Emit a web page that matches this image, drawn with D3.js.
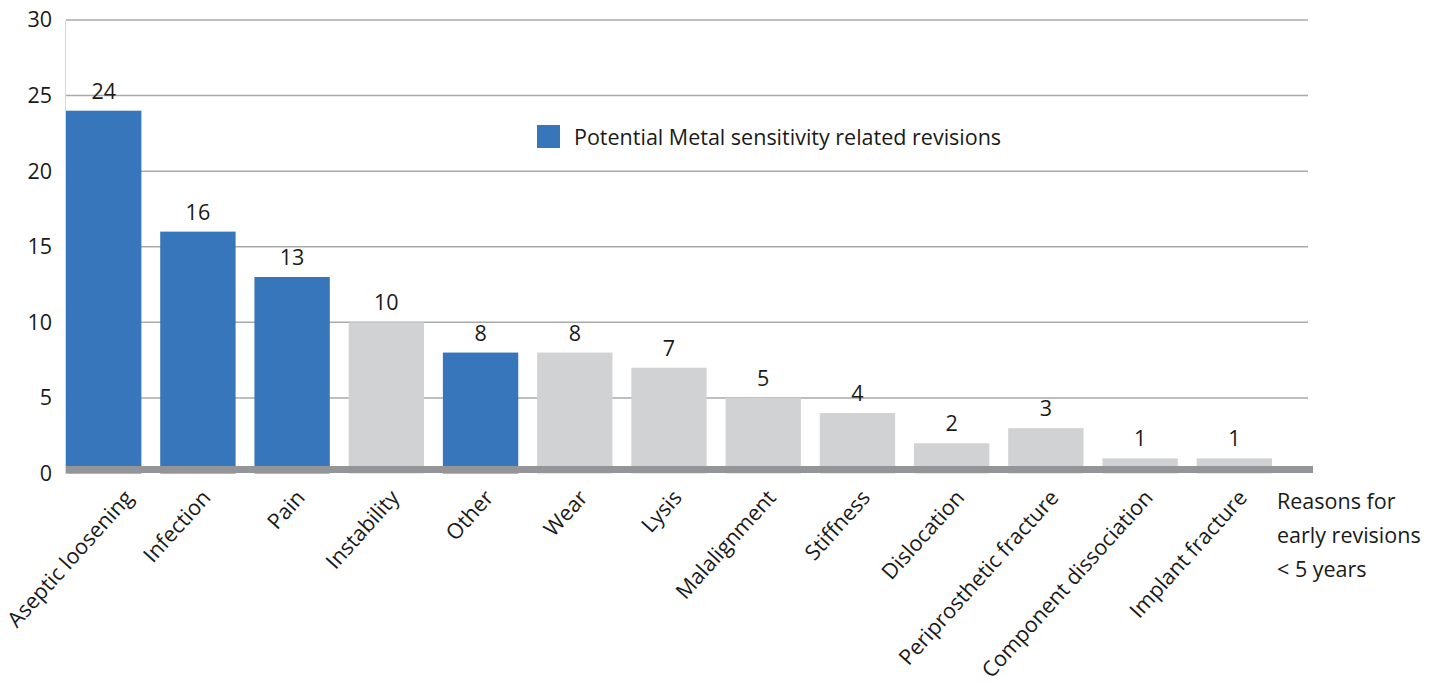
<!DOCTYPE html>
<html>
<head>
<meta charset="utf-8">
<script src="https://cdn.jsdelivr.net/npm/d3@7/dist/d3.min.js"></script>
<style>
  html, body { margin: 0; padding: 0; background: #fff; }
  svg { display: block; }
  text { font-family: "Open Sans", "Noto Sans", sans-serif; fill: #1a1a1a; }
</style>
</head>
<body>
<svg id="chart" width="1442" height="683"></svg>
<script>
// Reasons for early revisions (< 5 years)
const categories = [
  "Aseptic loosening", "Infection", "Pain", "Instability", "Other", "Wear",
  "Lysis", "Malalignment", "Stiffness", "Dislocation", "Periprosthetic fracture",
  "Component dissociation", "Implant fracture"
];
const counts = [24, 16, 13, 10, 8, 8, 7, 5, 4, 2, 3, 1, 1];
// true = potential metal sensitivity related revision
const metalRelated = [true, true, true, false, true, false, false, false, false, false, false, false, false];
const yTicks = [0, 5, 10, 15, 20, 25, 30];
const legendLabel = "Potential Metal sensitivity related revisions";
const axisTitleLines = ["Reasons for", "early revisions", "< 5 years"];

const BLUE = "#3776bb";
const GREY = "#d1d2d4";

const svg = d3.select("#chart");

const x = d3.scaleBand()
  .domain(categories)
  .range([66, 1272])
  .paddingInner(0.2)
  .paddingOuter(0);

const y = d3.scaleLinear().domain([0, 30]).range([473.5, 20]);

const plotRight = 1308;

// horizontal gridlines
svg.append("g")
  .selectAll("line")
  .data(yTicks.filter(d => d > 0))
  .join("line")
  .attr("x1", 66).attr("x2", plotRight)
  .attr("y1", d => y(d)).attr("y2", d => y(d))
  .attr("stroke", "#a7a9ac")
  .attr("stroke-width", 1.5);

// faint vertical axis line
svg.append("line")
  .attr("x1", 65.5).attr("x2", 65.5)
  .attr("y1", y(30)).attr("y2", y(0))
  .attr("stroke", "#d6d7d9").attr("stroke-width", 1);

// y axis labels
const yAxis = d3.axisLeft(y).tickValues(yTicks).tickSize(0).tickPadding(14);
const gy = svg.append("g").attr("transform", "translate(66,0)").call(yAxis);
gy.select(".domain").remove();
gy.selectAll("text")
  .attr("font-size", 21.5)
  .attr("font-family", "\"Open Sans\", sans-serif")
  .attr("fill", "#1a1a1a");

// bars
svg.append("g")
  .selectAll("rect")
  .data(categories)
  .join("rect")
  .attr("x", d => x(d))
  .attr("width", x.bandwidth())
  .attr("y", (d, i) => y(counts[i]))
  .attr("height", (d, i) => y(0) - y(counts[i]))
  .attr("fill", (d, i) => metalRelated[i] ? BLUE : GREY);

// value labels
svg.append("g")
  .selectAll("text")
  .data(categories)
  .join("text")
  .attr("x", d => x(d) + x.bandwidth() / 2)
  .attr("y", (d, i) => y(counts[i]) - 12)
  .attr("text-anchor", "middle")
  .attr("font-size", 21.5)
  .text((d, i) => counts[i]);

// thick baseline
svg.append("rect")
  .attr("x", 66).attr("width", 1313 - 66)
  .attr("y", y(0) - 7.5).attr("height", 7)
  .attr("fill", "#939598");

// category labels, rotated
const xAxis = d3.axisBottom(x).tickSize(0).tickPadding(0);
const gx = svg.append("g").attr("transform", `translate(0,${y(0)})`).call(xAxis);
gx.select(".domain").remove();
const labelAngle = -48;
const labelMinLeft = 0;
const labelDx = 14, labelDy = 25;
gx.selectAll("text")
  .attr("font-size", 21.5)
  .attr("font-family", "\"Open Sans\", sans-serif")
  .attr("fill", "#1a1a1a")
  .attr("text-anchor", "end")
  .attr("dy", 0)
  .attr("y", 0)
  .attr("transform", `translate(${labelDx},${labelDy}) rotate(${labelAngle})`)
  .each(function () {
    // keep long labels inside the left edge of the page
    const left = this.getBoundingClientRect().left;
    if (left < labelMinLeft) {
      d3.select(this).attr("transform",
        `translate(${labelDx + labelMinLeft - left},${labelDy}) rotate(${labelAngle})`);
    }
  });

// axis title to the right of the categories
const title = svg.append("text")
  .attr("x", 1277).attr("y", 509)
  .attr("font-size", 21.5);
title.selectAll("tspan")
  .data(axisTitleLines)
  .join("tspan")
  .attr("x", 1277)
  .attr("dy", (d, i) => i === 0 ? 0 : 34)
  .text(d => d);

// legend
const legend = svg.append("g").attr("transform", "translate(537,125)");
legend.append("rect").attr("width", 23).attr("height", 23).attr("fill", BLUE);
legend.append("text")
  .attr("x", 37).attr("y", 20)
  .attr("font-size", 21.5)
  .text(legendLabel);
</script>
</body>
</html>
